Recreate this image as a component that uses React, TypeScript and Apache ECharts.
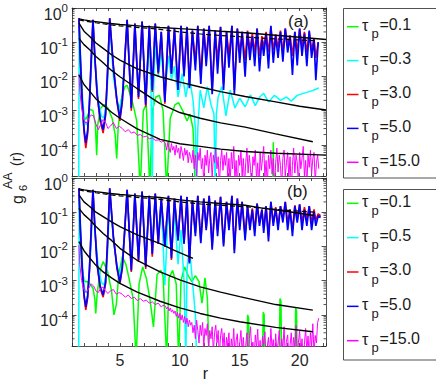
import React, { useEffect, useRef } from "react";
import * as echarts from "echarts";

const FONT = '"Liberation Sans", Arial, Helvetica, sans-serif';
const AXIS_COLOR = "#262626";
const TEXT_COLOR = "#1a1a1a";

const R_MIN = 1;
const R_MAX = 22.2;
const G_MIN = 1.23e-5;
const G_MAX = 1;

const GREEN = "#00ff00";
const CYAN = "#00ffff";
const RED = "#ff0000";
const BLUE = "#0000ff";
const MAGENTA = "#ff00ff";

const legendColors = [GREEN, CYAN, RED, BLUE, MAGENTA];
const legendTauA = ["0.1", "0.3", "3.0", "5.0", "15.0"];
const legendTauB = ["0.1", "0.5", "3.0", "5.0", "15.0"];

const minorTickValues = [
  2e-5, 3e-5, 4e-5, 5e-5, 6e-5, 7e-5, 8e-5, 9e-5,
  2e-4, 3e-4, 4e-4, 5e-4, 6e-4, 7e-4, 8e-4, 9e-4,
  2e-3, 3e-3, 4e-3, 5e-3, 6e-3, 7e-3, 8e-3, 9e-3,
  0.02, 0.03, 0.04, 0.05, 0.06, 0.07, 0.08, 0.09,
  0.2, 0.3, 0.4, 0.5, 0.6, 0.7, 0.8, 0.9,
];

// ---------- fitted black curves, panel (a) ----------
const fitTopR_A = [1.58, 2, 2.5, 3, 4, 5, 6, 7, 8.35, 10, 11.7, 13.4, 15.45, 18, 20, 22.2];
const fitTopG_A = [0.48, 0.45, 0.42, 0.4, 0.36, 0.33, 0.31, 0.29, 0.27, 0.25, 0.23, 0.21, 0.19, 0.16, 0.14, 0.12];
const fitDashR_A = [1.58, 2, 3, 4, 5, 6, 8, 10, 12, 15, 18, 21.5];
const fitDashG_A = [0.45, 0.42, 0.37, 0.33, 0.3, 0.28, 0.245, 0.2, 0.17, 0.145, 0.125, 0.11];
const fit2R_A = [1.58, 2, 2.5, 3, 3.6, 4.3, 5, 6.4, 8.35, 10, 11.7, 13.4, 15.45, 18, 20, 22.2];
const fit2G_A = [0.36, 0.21, 0.145, 0.095, 0.066, 0.043, 0.03, 0.017, 0.0098, 0.0068, 0.0049, 0.0036, 0.0026, 0.0018, 0.00135, 0.00104];
const fit3R_A = [1.58, 2, 2.5, 3, 3.6, 4.3, 5, 6.4, 8.35, 10, 11.7, 13.4, 15.45, 18, 21.1];
const fit3G_A = [0.13, 0.085, 0.059, 0.038, 0.025, 0.015, 0.0098, 0.0045, 0.0016, 0.00088, 0.0006, 0.00044, 0.00033, 0.00021, 0.000123];
const fit4R_A = [1.58, 2, 2.5, 3, 3.6, 4.3, 5, 6.4, 8.35, 10, 11.7, 13.4, 15.45, 18, 22.2];
const fit4G_A = [0.011, 0.0058, 0.0036, 0.0022, 0.00145, 0.0009, 0.0006, 0.0003, 0.000145, 0.000108, 0.00009, 0.000075, 0.000064, 0.000057, 0.00005];

// ---------- fitted black curves, panel (b) ----------
const fitTopR_B = [1.58, 2, 3, 4, 5, 6, 7, 8.35, 10, 11.7, 13.4, 15.45, 17, 19, 21.2];
const fitTopG_B = [0.48, 0.45, 0.4, 0.36, 0.33, 0.31, 0.29, 0.27, 0.23, 0.2, 0.18, 0.16, 0.13, 0.105, 0.08];
const fitDashR_B = [1.58, 2, 3, 4, 5, 6, 8, 10, 12, 15.45, 18, 21.3];
const fitDashG_B = [0.45, 0.42, 0.37, 0.33, 0.3, 0.28, 0.245, 0.2, 0.17, 0.145, 0.12, 0.1];
const fit2R_B = [1.58, 2, 2.5, 3, 3.6, 4.3, 5, 6.4, 8.35, 9.5, 11.1];
const fit2G_B = [0.32, 0.2, 0.145, 0.1, 0.074, 0.052, 0.038, 0.022, 0.012, 0.0078, 0.0045];
const fit34R_B = [1.58, 2, 2.5, 3, 3.6, 4.3, 5, 6.4, 8.35, 10, 11.7, 13.4, 15, 18, 21.1];
const fit3G_B = [0.13, 0.085, 0.059, 0.038, 0.024, 0.015, 0.0088, 0.004, 0.0018, 0.00105, 0.00066, 0.00046, 0.00034, 0.0002, 0.000138];
const fit4G_B = [0.0138, 0.0075, 0.0045, 0.0028, 0.0018, 0.0012, 0.00083, 0.00047, 0.00025, 0.00016, 0.00011, 0.00008, 0.000063, 0.000043, 0.000032];

// ---------- tau_p = 3.0 (red) and 5.0 (blue) ----------
const rBR_A = [
  1.58, 1.7, 1.85, 2.0, 2.15, 2.3, 2.45, 2.6, 2.75, 2.9, 3.1, 3.35, 3.6, 3.8, 3.95, 4.15, 4.45, 4.75, 5.0, 5.2, 5.4, 5.6,
  5.95, 6.25, 6.55, 6.85, 7.15, 7.45, 7.7, 7.95, 8.2, 8.45, 8.75, 9.05, 9.3, 9.55, 9.85, 10.1,
  10.35, 10.6, 10.8, 11.05, 11.3, 11.5, 11.75, 12.0, 12.2, 12.45, 12.7, 12.95, 13.15, 13.4, 13.65, 13.9, 14.1, 14.35, 14.55, 14.8, 15.0, 15.2,
  15.45, 15.65, 15.85, 16.05, 16.25, 16.45, 16.65, 16.85, 17.0, 17.2, 17.4, 17.6, 17.8, 18.0, 18.2, 18.4, 18.6, 18.8, 19.0, 19.2, 19.4, 19.6, 19.8, 20.0, 20.2, 20.4, 20.6, 20.8, 21.0, 21.2, 21.35, 21.55,
];
const blueA = [
  0.5, 0.03, 2e-3, 3e-4, 1.15e-4, 2.5e-4, 1.5e-3, 0.03, 0.45, 0.04, 3e-3, 6e-4, 2.8e-4, 8e-4, 0.01, 0.5, 0.02, 2e-3, 6e-4, 2e-3, 0.03, 0.45,
  1.2e-3, 0.35, 2.5e-3, 0.4, 1.5e-3, 0.3, 4e-3, 0.35, 0.013, 0.2, 1.8e-3, 0.3, 0.012, 0.25, 4e-3, 0.3,
  0.01, 0.28, 4.5e-3, 0.22, 0.015, 0.3, 6e-3, 0.25, 0.02, 0.3, 3e-3, 0.22, 0.012, 0.28, 4e-3, 0.2, 0.018, 0.3, 3e-3, 0.25, 0.025, 0.2,
  0.0098, 0.2, 0.03, 0.15, 0.02, 0.25, 0.014, 0.12, 0.04, 0.18, 0.017, 0.3, 0.025, 0.15, 0.035, 0.2, 0.027, 0.25, 0.05, 0.15, 0.011, 0.2, 0.021, 0.25, 0.04, 0.18, 0.02, 0.22, 0.035, 0.12, 0.0078, 0.1,
];
const redA = [
  0.5, 0.03, 1.8e-3, 2.4e-4, 8e-5, 2e-4, 1.3e-3, 0.03, 0.45, 0.04, 2.8e-3, 5e-4, 2.2e-4, 7e-4, 0.01, 0.5, 0.02, 1.8e-3, 5e-4, 1.8e-3, 0.03, 0.45,
  1e-3, 0.35, 2.2e-3, 0.4, 1.3e-3, 0.3, 3.5e-3, 0.35, 0.012, 0.2, 1.6e-3, 0.3, 0.012, 0.25, 4e-3, 0.3,
  0.012, 0.28, 6e-3, 0.22, 0.025, 0.3, 0.01, 0.25, 0.035, 0.3, 4e-3, 0.22, 0.03, 0.28, 6e-3, 0.2, 0.04, 0.3, 4e-3, 0.25, 0.05, 0.2,
  0.03, 0.22, 0.06, 0.18, 0.05, 0.25, 0.04, 0.15, 0.07, 0.2, 0.05, 0.28, 0.06, 0.17, 0.07, 0.22, 0.05, 0.25, 0.08, 0.16, 0.04, 0.2, 0.05, 0.25, 0.07, 0.2, 0.05, 0.2, 0.06, 0.13, 0.035, 0.1,
];
const rBR_B = [...rBR_A, 21.75];
const blueB = [
  0.5, 0.03, 2.5e-3, 4e-4, 1.7e-4, 3.5e-4, 2e-3, 0.03, 0.45, 0.04, 3e-3, 7e-4, 3.8e-4, 9e-4, 0.01, 0.5, 0.02, 2.5e-3, 9e-4, 2.5e-3, 0.03, 0.45,
  2e-3, 0.35, 4e-3, 0.4, 2.5e-3, 0.3, 6e-3, 0.35, 0.012, 0.25, 0.01, 0.3, 4.5e-3, 0.25, 0.015, 0.3,
  0.012, 0.28, 3.2e-3, 0.22, 0.02, 0.3, 0.0125, 0.25, 0.03, 0.3, 0.008, 0.22, 0.02, 0.28, 0.01, 0.2, 0.03, 0.3, 6.3e-3, 0.25, 0.03, 0.2,
  0.015, 0.15, 0.03, 0.12, 0.02, 0.18, 0.04, 0.12, 0.025, 0.15, 0.014, 0.2, 0.04, 0.13, 0.03, 0.15, 0.05, 0.2, 0.03, 0.12, 0.02, 0.15, 0.05, 0.17, 0.03, 0.12, 0.04, 0.15, 0.03, 0.1, 0.04, 0.08, 0.07,
];
const redB = [
  0.5, 0.03, 2.3e-3, 3.5e-4, 1.4e-4, 3e-4, 1.8e-3, 0.03, 0.45, 0.04, 2.8e-3, 6e-4, 3.3e-4, 8e-4, 0.01, 0.5, 0.02, 2.3e-3, 8e-4, 2.3e-3, 0.03, 0.45,
  1.8e-3, 0.35, 3.6e-3, 0.4, 2.2e-3, 0.3, 5e-3, 0.35, 0.012, 0.25, 0.01, 0.3, 4e-3, 0.25, 0.015, 0.3,
  0.012, 0.28, 3.5e-3, 0.22, 0.025, 0.3, 0.015, 0.25, 0.035, 0.3, 0.01, 0.22, 0.03, 0.28, 0.012, 0.2, 0.04, 0.3, 8e-3, 0.25, 0.04, 0.2,
  0.02, 0.15, 0.04, 0.13, 0.03, 0.18, 0.05, 0.12, 0.035, 0.15, 0.02, 0.2, 0.05, 0.14, 0.04, 0.15, 0.06, 0.2, 0.05, 0.12, 0.03, 0.16, 0.06, 0.17, 0.05, 0.14, 0.06, 0.15, 0.05, 0.12, 0.06, 0.09, 0.08,
];

// ---------- cyan: tau_p = 0.3 (a), 0.5 (b) ----------
const cyanR_A = [
  1.56, 1.6, 1.75, 1.9, 2.05, 2.2, 2.35, 2.5, 2.65, 2.75, 2.95, 3.2, 3.45, 3.65, 3.85, 4.0, 4.15, 4.45, 4.75, 5.0, 5.2, 5.4, 5.6,
  5.95, 6.25, 6.55, 6.85, 7.15, 7.45, 7.6, 7.7, 7.8, 7.95, 8.2, 8.45, 8.75, 9.05, 9.3, 9.55, 9.85, 10.2, 10.5, 10.8, 11.1, 11.3,
  11.4, 11.5, 11.7, 12.0, 12.3, 12.6, 12.85, 12.95, 13.05, 13.2, 13.5, 13.85, 14.2, 14.6, 15.0, 15.45, 15.9, 16.3, 16.7, 17.0,
  17.4, 17.9, 18.4, 18.9, 19.3, 19.8, 20.3, 20.8, 21.2, 21.6,
];
const cyanA = [
  5e-6, 0.4, 0.02, 2e-3, 5e-4, 3.8e-4, 5e-4, 3e-3, 0.03, 0.4, 0.02, 2e-3, 7e-4, 6e-4, 1.5e-3, 0.01, 0.4, 0.01, 2e-3, 1.2e-3, 3e-3, 0.03, 0.35,
  2e-3, 0.25, 3e-3, 0.25, 2e-3, 0.15, 3e-3, 5e-6, 3e-3, 0.1, 0.01, 0.05, 3e-3, 0.04, 8e-3, 0.02, 2.5e-3, 0.012, 2.5e-3, 0.01, 2e-3, 3e-4,
  5e-6, 3e-4, 4e-3, 1.2e-3, 5e-3, 1.5e-3, 8e-4, 5e-6, 8e-4, 2.5e-3, 5e-3, 7e-4, 4e-3, 1.2e-3, 2.3e-3, 1.3e-3, 2.9e-3, 1.4e-3, 2.6e-3, 3.2e-3,
  1.8e-3, 2.8e-3, 2e-3, 2.5e-3, 1.9e-3, 2.8e-3, 3.2e-3, 3.6e-3, 4e-3, 4.6e-3,
];
const cyanR_B = [
  1.56, 1.6, 1.75, 1.9, 2.05, 2.2, 2.35, 2.5, 2.65, 2.75, 2.95, 3.2, 3.45, 3.65, 3.85, 4.0, 4.15, 4.45, 4.75, 5.0, 5.2, 5.4, 5.6,
  5.95, 6.25, 6.55, 6.85, 7.15, 7.45, 7.7, 7.95, 8.2, 8.45, 8.75, 9.05, 9.3, 9.55, 9.85, 10.1, 10.35, 10.5, 10.6, 10.8, 11.05, 11.3, 11.4,
];
const cyanB = [
  5e-6, 0.4, 0.02, 2e-3, 6e-4, 4.4e-4, 6e-4, 3e-3, 0.03, 0.4, 0.02, 2.5e-3, 9e-4, 7.4e-4, 1.5e-3, 0.01, 0.4, 0.015, 3e-3, 1.3e-3, 4e-3, 0.03, 0.35,
  3e-3, 0.3, 6e-3, 0.3, 4e-3, 0.25, 9.8e-3, 0.3, 0.02, 0.2, 7.4e-4, 0.15, 6.3e-3, 0.1, 3e-3, 0.03, 1e-3, 5e-6, 2e-3, 0.01, 1e-3, 1e-4, 5e-6,
];

// ---------- green: tau_p = 0.1 ----------
const greenR_A = [
  1.58, 1.68, 1.8, 2.0, 2.15, 2.3, 2.5, 2.75, 2.95, 3.06, 3.15, 3.4, 3.7, 4.0, 4.35, 4.6, 4.73, 4.85, 5.1, 5.4, 5.6, 5.85,
  6.1, 6.4, 6.7, 6.95, 7.2, 7.5, 7.7, 8.0, 8.3, 8.6, 8.9, 9.2, 9.6, 9.9, 10.3, 10.6, 10.85, 11.1, 11.3, 17.75, 17.8, 17.85, 21.5,
];
const greenA = [
  0.3, 0.02, 2e-3, 7e-4, 5.5e-4, 7e-4, 1.1e-3, 1e-3, 4e-4, 5e-5, 4e-4, 1.2e-3, 1.5e-3, 1.2e-3, 6e-4, 2e-4, 4e-5, 3e-4, 2e-3, 5e-3, 5.5e-3, 3e-3,
  1.5e-3, 5e-4, 5e-6, 1e-3, 1.5e-3, 5e-6, 1e-3, 2.5e-3, 2.8e-3, 1e-3, 5e-6, 6e-4, 1.5e-3, 1.7e-3, 9e-4, 5e-4, 7.9e-4, 3e-4, 5e-6, 5e-6, 1.2e-4, 5e-6, 5e-6,
];
const greenR_B = [
  1.58, 1.68, 1.8, 2.0, 2.15, 2.3, 2.5, 2.75, 2.9, 2.98, 3.1, 3.35, 3.6, 3.95, 4.3, 4.5, 4.7, 4.9, 5.2, 5.5, 5.8, 6.1, 6.35,
  6.6, 6.9, 7.2, 7.5, 7.8, 8.1, 8.4, 8.6, 8.9, 9.1, 9.4, 9.7, 9.9, 10.1, 10.4, 10.7, 11.0, 11.3, 11.6, 11.85, 12.1, 12.3, 12.45,
  15.6, 15.66, 15.74, 15.8, 16.9, 16.96, 17.04, 17.1, 18.3, 18.36, 18.44, 18.5, 19.6, 19.67, 19.74, 19.8, 21.5,
];
const greenB = [
  0.3, 0.02, 3e-3, 1e-3, 9.3e-4, 9.5e-4, 8e-4, 6e-4, 3e-4, 1.1e-4, 4e-4, 2e-3, 3.6e-3, 2e-3, 5e-4, 1e-4, 2e-4, 1.5e-3, 5e-3, 3e-3, 1e-3, 3e-4, 5e-6,
  8e-4, 2.5e-3, 1.2e-3, 3e-4, 4.4e-5, 1.5e-3, 2e-3, 1.4e-3, 5e-6, 1.2e-3, 2e-3, 8e-4, 5e-6, 1e-3, 2.5e-3, 1.4e-3, 9.3e-4, 1.4e-3, 9.3e-4, 2.2e-4, 1.2e-3, 3e-4, 5e-6,
  5e-6, 1e-4, 8e-5, 5e-6, 5e-6, 1.2e-4, 1e-4, 5e-6, 5e-6, 3e-4, 2.5e-4, 5e-6, 5e-6, 1.6e-4, 1.3e-4, 5e-6, 5e-6,
];

// ---------- magenta: tau_p = 15.0 ----------
const rMagHead = [
  1.58, 1.65, 1.8, 1.95, 2.1, 2.25, 2.4, 2.6, 2.8, 3.0, 3.2, 3.4, 3.6, 3.8, 4.0, 4.2, 4.45,
  4.7, 4.95, 5.2, 5.45, 5.7, 5.95, 6.2, 6.45, 6.7, 6.95, 7.2, 7.45, 7.7, 7.95, 8.2, 8.45, 8.6,
];
const rMagTail = [
  8.8, 8.9, 9.0, 9.1, 9.2, 9.3, 9.4, 9.5, 9.6, 9.7, 9.8, 9.9, 10.0, 10.1, 10.2, 10.3, 10.4, 10.5, 10.6, 10.7, 10.8, 10.9,
  11.0, 11.1, 11.2, 11.3, 11.4, 11.5, 11.6, 11.7, 11.8, 11.9, 12.0, 12.1, 12.2, 12.3, 12.4, 12.5, 12.6, 12.7, 12.8, 12.9,
  13.0, 13.1, 13.2, 13.3, 13.4, 13.5, 13.6, 13.7, 13.8, 13.9,
  14.0, 14.1, 14.2, 14.3, 14.4, 14.5, 14.6, 14.7, 14.8, 14.9, 15.0, 15.1, 15.2, 15.3, 15.4, 15.5, 15.6, 15.7, 15.8, 15.9,
  16.0, 16.1, 16.2, 16.3, 16.4, 16.5, 16.6, 16.7, 16.8, 16.9, 17.0, 17.1, 17.2, 17.3, 17.4, 17.5, 17.6, 17.7, 17.8, 17.9,
  18.0, 18.1, 18.2, 18.3, 18.4, 18.5, 18.6, 18.7, 18.8, 18.9, 19.0, 19.1, 19.2, 19.3, 19.4, 19.5, 19.6, 19.7, 19.8, 19.9,
  20.0, 20.1, 20.2, 20.3, 20.4, 20.5, 20.6, 20.7, 20.8, 20.9, 21.0, 21.1, 21.2, 21.3, 21.4, 21.5, 21.6,
];
const magHeadA = [
  0.012, 4e-3, 1.2e-3, 6e-4, 4.5e-4, 4.5e-4, 6e-4, 7.5e-4, 7e-4, 4e-4, 2.8e-4, 4e-4, 5.5e-4, 4.5e-4, 3e-4, 3.5e-4, 4.5e-4,
  3e-4, 3.5e-4, 3e-4, 2.4e-4, 2.8e-4, 2.2e-4, 2.4e-4, 1.9e-4, 2e-4, 1.7e-4, 1.8e-4, 1.5e-4, 1.6e-4, 1.35e-4, 1.4e-4, 1.2e-4, 1.3e-4,
];
const magTailA = [
  1.1e-4, 7e-5, 1.2e-4, 8e-5, 6e-5, 1.1e-4, 7e-5, 9e-5, 5e-5, 1e-4, 6e-5, 8e-5, 4e-5, 9e-5, 6e-5, 3.5e-5, 8e-5, 5e-5, 7e-5, 3e-5, 6e-5, 4.5e-5,
  3e-5, 7e-5, 2e-5, 5e-5, 1.2e-5, 6e-5, 3.5e-5, 8e-5, 2e-5, 4e-5, 7e-6, 5e-5, 2.5e-5, 7e-5, 1.5e-5, 4e-5, 6e-5, 1e-5, 5e-5, 3e-5,
  8e-5, 2e-5, 4.5e-5, 6e-6, 3.5e-5, 7e-5, 1.8e-5, 5e-5, 2.5e-5, 6e-5,
  1.2e-5, 4e-5, 7e-6, 6e-5, 2e-5, 9e-5, 1e-5, 3.5e-5, 5e-6, 5e-5, 2.5e-5, 7e-5, 1.2e-5, 4e-5, 6e-6, 3e-5, 8e-5, 1.5e-5, 5e-5, 2e-5,
  6e-6, 4.5e-5, 2.5e-5, 7e-5, 1e-5, 3e-5, 5e-6, 6e-5, 1.8e-5, 4e-5, 9e-5, 1.2e-5, 3.5e-5, 6e-6, 5e-5, 2e-5, 7e-5, 1.4e-5, 4e-5, 5e-6,
  3e-5, 8e-5, 1.6e-5, 5e-5, 2.5e-5, 6e-6, 4e-5, 7e-5, 1.2e-5, 3e-5, 6e-5, 1e-5, 4.5e-5, 5e-6, 2.5e-5, 8e-5, 1.5e-5, 5e-5, 3e-5, 7e-6,
  6e-5, 2e-5, 4e-5, 9e-5, 1.2e-5, 3.5e-5, 6e-6, 5e-5, 2.2e-5, 7e-5, 1.4e-5, 4e-5, 6e-5, 8e-6, 3e-5, 5e-5, 2e-5,
];
const magHeadB = [
  0.011, 3e-3, 1e-3, 6e-4, 4.7e-4, 4.7e-4, 6e-4, 8e-4, 7e-4, 5e-4, 4.5e-4, 6e-4, 6.5e-4, 5e-4, 4.2e-4, 5e-4, 5.5e-4,
  4e-4, 4.5e-4, 4e-4, 3.3e-4, 3.8e-4, 3e-4, 3.3e-4, 2.6e-4, 3e-4, 2.5e-4, 2.7e-4, 2.2e-4, 2.4e-4, 2e-4, 2.2e-4, 1.7e-4, 1.9e-4,
];
const magTailB = [
  1.8e-4, 1.5e-4, 1.7e-4, 1.3e-4, 1.6e-4, 1.2e-4, 1.4e-4, 1.1e-4, 1.3e-4, 9e-5, 1.2e-4, 8e-5, 1.1e-4, 7e-5, 1e-4, 6e-5, 9e-5, 5.5e-5, 8e-5, 4.5e-5, 7e-5, 5e-5,
  6e-5, 3e-5, 5e-5, 2e-5, 7e-5, 3.5e-5, 1.5e-5, 5e-5, 2.5e-5, 6e-5, 1.2e-5, 4e-5, 2.5e-5, 5.5e-5, 1e-5, 3.5e-5, 2e-5, 4.5e-5, 8e-6, 3e-5,
  5e-5, 1.5e-5, 3.5e-5, 6e-6, 2.5e-5, 4e-5, 1.2e-5, 3e-5, 5e-6, 2.2e-5,
  1.2e-5, 3e-5, 5e-6, 2e-5, 1e-5, 4e-5, 6e-6, 1.8e-5, 2.8e-5, 5e-6, 1.5e-5, 3.5e-5, 8e-6, 2.2e-5, 5e-6, 1.3e-5, 3e-5, 6e-6, 2e-5, 4.5e-5,
  9e-6, 1.6e-5, 5e-6, 2.6e-5, 1.1e-5, 3.8e-5, 6e-6, 1.8e-5, 5e-6, 2.4e-5, 1.4e-5, 3.2e-5, 5e-6, 1.2e-5, 2.2e-5, 6e-6, 4e-5, 1e-5, 1.9e-5, 5e-6,
  2.8e-5, 8e-6, 1.5e-5, 3.5e-5, 5e-6, 2e-5, 1.1e-5, 4.5e-5, 6e-6, 1.7e-5, 2.6e-5, 5e-6, 1.3e-5, 3e-5, 7e-6, 2.2e-5, 1e-5, 5e-5, 5e-6, 1.6e-5,
  3.4e-5, 8e-6, 2e-5, 5e-6, 1.4e-5, 4e-5, 9e-6, 2.4e-5, 6e-6, 3e-5, 1.2e-5, 5.5e-5, 7e-6, 2.5e-5, 1.5e-5, 6e-5, 8e-5,
];

const pairs = (r: number[], g: number[]) => r.map((x, i) => [x, g[i]]);

function lineSeries(panel: number, r: number[], g: number[], color: string, width = 1.5, dashed = false, z = 2) {
  return {
    type: "line",
    xAxisIndex: panel,
    yAxisIndex: panel,
    data: pairs(r, g),
    showSymbol: false,
    symbol: "none",
    silent: true,
    clip: true,
    z,
    lineStyle: { color, width, type: dashed ? [5, 3] : "solid" },
  };
}

function minorTickSeries(panel: number) {
  return {
    type: "custom",
    xAxisIndex: panel,
    yAxisIndex: panel,
    silent: true,
    clip: false,
    z: 5,
    data: minorTickValues.map((v) => [R_MIN, v]),
    renderItem: (_p: any, api: any) => {
      const v = api.value(1);
      const a = api.coord([R_MIN, v]);
      const b = api.coord([R_MAX, v]);
      return {
        type: "group",
        children: [
          { type: "line", shape: { x1: a[0], y1: a[1], x2: a[0] + 2.5, y2: a[1] }, style: { stroke: AXIS_COLOR, lineWidth: 0.8 } },
          { type: "line", shape: { x1: b[0] - 2.5, y1: b[1], x2: b[0], y2: b[1] }, style: { stroke: AXIS_COLOR, lineWidth: 0.8 } },
        ],
      };
    },
  };
}

const axisLineStyle = { color: AXIS_COLOR, width: 0.8 };

function xAxis(gridIndex: number, showLabels: boolean, position: string) {
  return {
    type: "value",
    gridIndex,
    position,
    min: R_MIN,
    max: R_MAX,
    interval: 1,
    axisLine: { show: true, onZero: false, lineStyle: axisLineStyle },
    axisTick: { show: true, inside: true, length: 3, lineStyle: axisLineStyle },
    axisLabel: {
      show: showLabels,
      margin: 6,
      color: AXIS_COLOR,
      fontFamily: FONT,
      fontSize: 16,
      formatter: (v: number) => (Math.abs(v % 5) < 1e-9 ? String(v) : ""),
    },
    splitLine: { show: false },
  };
}

function yAxis(gridIndex: number, showLabels: boolean, position: string) {
  return {
    type: "log",
    logBase: 10,
    gridIndex,
    position,
    min: G_MIN,
    max: G_MAX,
    axisLine: { show: true, onZero: false, lineStyle: axisLineStyle },
    axisTick: { show: true, inside: true, length: 4.5, lineStyle: axisLineStyle },
    axisLabel: {
      show: showLabels,
      margin: 4,
      color: AXIS_COLOR,
      fontFamily: FONT,
      formatter: (v: number) => {
        const e = Math.log10(v);
        const k = Math.round(e);
        if (Math.abs(e - k) > 1e-6 || k < -4) return "";
        return `{b|10}{s|${k}}`;
      },
      rich: {
        b: { fontSize: 16, fontFamily: FONT, color: AXIS_COLOR, verticalAlign: "bottom" },
        s: { fontSize: 11.5, fontFamily: FONT, color: AXIS_COLOR, lineHeight: 28 },
      },
    },
    splitLine: { show: false },
    minorTick: { show: false },
  };
}

function legendGraphics(top: number, step: number, labels: string[], boxTop: number, boxHeight: number) {
  const els: any[] = [
    {
      type: "rect",
      shape: { x: 343.5, y: boxTop, width: 120, height: boxHeight },
      style: { fill: "#ffffff", stroke: AXIS_COLOR, lineWidth: 0.8 },
      z: 10,
    },
  ];
  labels.forEach((lab, i) => {
    const y = top + step * i;
    els.push({
      type: "line",
      shape: { x1: 347, y1: y, x2: 358.5, y2: y },
      style: { stroke: legendColors[i], lineWidth: 1.5 },
      z: 11,
    });
    els.push({
      type: "text",
      x: 362,
      y: y - 1.5,
      style: { text: "τ", fontSize: 16, fontFamily: FONT, fill: TEXT_COLOR, align: "left", verticalAlign: "middle" },
      z: 11,
    });
    els.push({
      type: "text",
      x: 371.5,
      y: y + 7,
      style: { text: "p", fontSize: 13, fontFamily: FONT, fill: TEXT_COLOR, align: "left", verticalAlign: "middle" },
      z: 11,
    });
    els.push({
      type: "text",
      x: 379.5,
      y: y - 2.2,
      style: { text: "=" + lab, fontSize: 16, fontFamily: FONT, fill: TEXT_COLOR, align: "left", verticalAlign: "middle" },
      z: 11,
    });
  });
  return els;
}

function rotatedText(text: string, x: number, y: number, fontSize: number) {
  return {
    type: "text",
    x,
    y,
    rotation: Math.PI / 2,
    style: { text, fontSize, fontFamily: FONT, fill: TEXT_COLOR, align: "left", verticalAlign: "middle" },
  };
}

export default function App() {
  const ref = useRef<HTMLDivElement>(null);
  useEffect(() => {
    if (!ref.current) return;
    const chart = echarts.init(ref.current, undefined, { renderer: "svg" });
    const magR = [...rMagHead, ...rMagTail];
    const series: any[] = [
      minorTickSeries(0),
      minorTickSeries(1),
      // panel (a)
      lineSeries(0, greenR_A, greenA, GREEN),
      lineSeries(0, cyanR_A, cyanA, CYAN),
      lineSeries(0, rBR_A, redA, RED, 1.6),
      lineSeries(0, rBR_A, blueA, BLUE, 1.7),
      lineSeries(0, magR, [...magHeadA, ...magTailA], MAGENTA, 1.0),
      lineSeries(0, fitTopR_A, fitTopG_A, "#000", 1.4, false, 3),
      lineSeries(0, fitDashR_A, fitDashG_A, "#000", 1.2, true, 3),
      lineSeries(0, fit2R_A, fit2G_A, "#000", 1.4, false, 3),
      lineSeries(0, fit3R_A, fit3G_A, "#000", 1.4, false, 3),
      lineSeries(0, fit4R_A, fit4G_A, "#000", 1.4, false, 3),
      // panel (b)
      lineSeries(1, greenR_B, greenB, GREEN),
      lineSeries(1, cyanR_B, cyanB, CYAN),
      lineSeries(1, rBR_B, redB, RED, 1.6),
      lineSeries(1, rBR_B, blueB, BLUE, 1.7),
      lineSeries(1, magR, [...magHeadB, ...magTailB], MAGENTA, 1.0),
      lineSeries(1, fitTopR_B, fitTopG_B, "#000", 1.4, false, 3),
      lineSeries(1, fitDashR_B, fitDashG_B, "#000", 1.2, true, 3),
      lineSeries(1, fit2R_B, fit2G_B, "#000", 1.4, false, 3),
      lineSeries(1, fit34R_B, fit3G_B, "#000", 1.4, false, 3),
      lineSeries(1, fit34R_B, fit4G_B, "#000", 1.4, false, 3),
    ];

    const graphic: any[] = [
      ...legendGraphics(26.7, 33.9, legendTauA, 8.5, 169.5),
      ...legendGraphics(203.3, 34.35, legendTauB, 189.5, 170.5),
      {
        type: "text",
        x: 288,
        y: 21.7,
        style: { text: "(a)", fontSize: 17, fontFamily: FONT, fill: TEXT_COLOR, align: "left", verticalAlign: "middle" },
        z: 12,
      },
      {
        type: "text",
        x: 287,
        y: 191,
        style: { text: "(b)", fontSize: 17, fontFamily: FONT, fill: TEXT_COLOR, align: "left", verticalAlign: "middle" },
        z: 12,
      },
      {
        type: "text",
        x: 205.5,
        y: 373.5,
        style: { text: "r", fontSize: 16, fontFamily: FONT, fill: TEXT_COLOR, align: "center", verticalAlign: "middle" },
      },
      rotatedText("g", 17, 204, 16),
      rotatedText("6", 23, 191, 11),
      rotatedText("AA", 8, 189, 12.5),
      rotatedText("(r)", 15.5, 166, 14),
    ];

    chart.setOption({
      animation: false,
      backgroundColor: "#ffffff",
      grid: [
        { left: 72, top: 8, width: 254, height: 168, containLabel: false },
        { left: 72, top: 178, width: 254, height: 168, containLabel: false },
      ],
      xAxis: [xAxis(0, false, "bottom"), xAxis(1, true, "bottom"), xAxis(0, false, "top"), xAxis(1, false, "top")],
      yAxis: [yAxis(0, true, "left"), yAxis(1, true, "left"), yAxis(0, false, "right"), yAxis(1, false, "right")],
      series,
      graphic,
    });
    return () => chart.dispose();
  }, []);

  return <div ref={ref} style={{ position: "fixed", left: 0, top: 0, width: 436, height: 382, background: "#fff" }} />;
}
